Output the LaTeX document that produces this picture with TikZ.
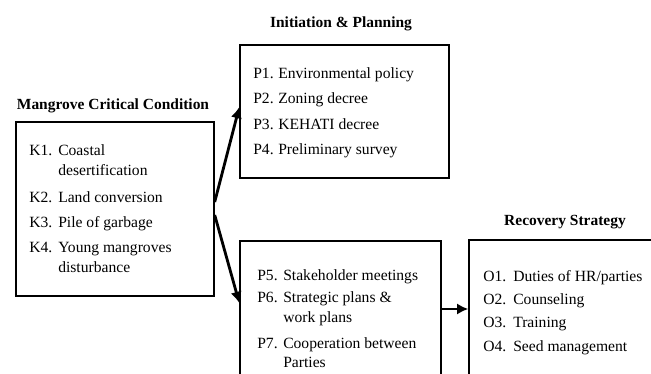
\documentclass[tikz,border=0pt]{standalone}
\usepackage{fontspec}
\setmainfont{Liberation Serif}
\usetikzlibrary{arrows.meta,fit,calc}
\begin{document}
\begin{tikzpicture}[x=0.025cm,y=0.025cm,
  box/.style={draw,line width=1pt,inner sep=0pt},
  head/.style={font=\fontsize{11}{13}\selectfont\bfseries,anchor=base,inner sep=0pt},
  item/.style={font=\fontsize{11.1}{13}\selectfont,anchor=base west,inner sep=0pt},
  flow/.style={-{Latex[length=8pt,width=8pt]},line width=2pt}]
\useasboundingbox (0,0) rectangle (651,374);
\clip (0,0) rectangle (651,374);

% Mangrove Critical Condition
\node[head] (khead) at (113,264) {Mangrove Critical Condition};
\node[box,fit={(16,78) (214,252)}] (kbox) {};
\foreach \y [count=\i] in {218,171,146,121}
  \node[item] (klab\i) at (29,\y) {K\i.};
\foreach \t/\y [count=\i] in {Coastal/218,desertification/198,Land conversion/171,
    Pile of garbage/146,Young mangroves/121,disturbance/101}
  \node[item] (ktxt\i) at (58,\y) {\t};

% Initiation & Planning
\node[head] (phead) at (341,346) {Initiation \& Planning};
\node[box,fit={(240,196) (449,329)}] (pbox) {};
\foreach \y [count=\i] in {295,270,244,219}
  \node[item] (plab\i) at (253,\y) {P\i.};
\foreach \t/\y [count=\i] in {Environmental policy/295,Zoning decree/270,
    KEHATI decree/244,Preliminary survey/219}
  \node[item] (ptxt\i) at (278,\y) {\t};

% Strategic planning box (P5--P7)
\node[box,fit={(240,-3) (441,133)}] (sbox) {};
\foreach \y [count=\i from 5] in {93,71,25}
  \node[item] (slab\i) at (257,\y) {P\i.};
\foreach \t/\y [count=\i] in {Stakeholder meetings/93,Strategic plans \&/71,
    work plans/51,Cooperation between/25,Parties/6}
  \node[item] (stxt\i) at (283,\y) {\t};

% Recovery Strategy
\node[head] (rhead) at (565,148) {Recovery Strategy};
\node[box,fit={(469,-4) (680,134)}] (rbox) {};
\foreach \y [count=\i] in {92,69,46,22}
  \node[item] (rlab\i) at (483,\y) {O\i.};
\foreach \t/\y [count=\i] in {{Duties of HR/parties}/92,Counseling/69,
    Training/46,Seed management/22}
  \node[item] (rtxt\i) at (513,\y) {\t};

% connectors
\draw[flow] ($(kbox.east)+(0,7)$) -- ($(pbox.west)+(0,4.5)$);
\draw[flow] ($(kbox.east)+(0,-6)$) -- ($(sbox.west)+(0,6)$);
\draw[flow] (sbox.east) -- (sbox.east -| rbox.west);
\end{tikzpicture}
\end{document}
